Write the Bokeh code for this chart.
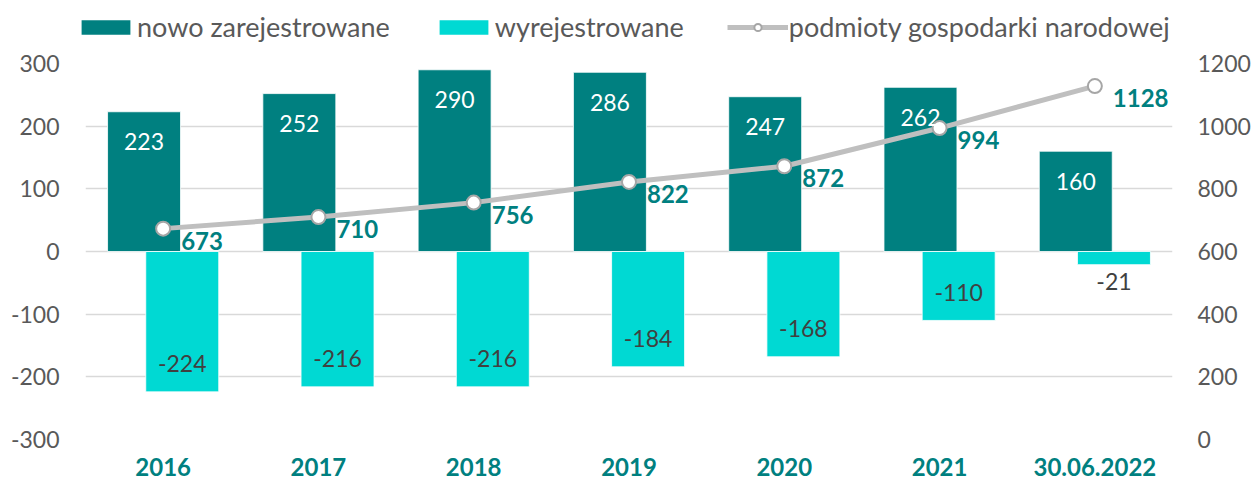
from bokeh.plotting import figure
from bokeh.layouts import column
from bokeh.models import (Range1d, LinearAxis, FactorRange, ColumnDataSource,
                          Legend, LegendItem, FixedTicker)
from bokeh.transform import dodge
from bokeh.core.properties import value
from bokeh.embed import file_html
from bokeh.resources import INLINE

categories = ["2016", "2017", "2018", "2019", "2020", "2021", "30.06.2022"]
registered = [223, 252, 290, 286, 247, 262, 160]
deregistered = [-224, -216, -216, -184, -168, -110, -21]
entities = [673, 710, 756, 822, 872, 994, 1128]
left_ticks = [-300, -200, -100, 0, 100, 200, 300]
right_ticks = [0, 200, 400, 600, 800, 1000, 1200]
series_names = ["nowo zarejestrowane", "wyrejestrowane", "podmioty gospodarki narodowej"]

TEAL = "#008080"
CYAN = "#00D9D3"
GREY_TXT = "#595959"
LINE_C = "#BFBFBF"
MARK_C = "#A6A6A6"
FONT = "Lato"

src = ColumnDataSource(dict(
    cat=categories,
    reg=registered,
    dereg=deregistered,
    ent=entities,
    reg_lbl=[str(v) for v in registered],
    dereg_lbl=[str(v) for v in deregistered],
    ent_lbl=[str(v) for v in entities],
    dereg_off=[(-28 if v < -50 else 17) for v in deregistered],
))

xr = FactorRange(*categories, range_padding=0)

p = figure(x_range=xr, y_range=Range1d(-300, 300),
           width=1253, height=441, output_backend="svg", toolbar_location=None,
           min_border_left=85, min_border_right=81, min_border_top=17,
           min_border_bottom=48, y_axis_location=None)
p.extra_y_ranges = {"right": Range1d(0, 1200)}
p.outline_line_color = None
p.background_fill_color = "white"
p.border_fill_color = "white"

# axes
yl = LinearAxis(ticker=FixedTicker(ticks=left_ticks))
yl.major_label_overrides = {t: str(t) for t in left_ticks}
yr = LinearAxis(y_range_name="right", ticker=FixedTicker(ticks=right_ticks))
for ax, st in ((yl, 26), (yr, 25)):
    ax.axis_line_color = None
    ax.major_tick_line_color = None
    ax.minor_tick_line_color = None
    ax.major_tick_out = 0
    ax.major_tick_in = 0
    ax.minor_tick_out = 0
    ax.major_label_standoff = st
    ax.major_label_text_font = FONT
    ax.major_label_text_font_size = "23px"
    ax.major_label_text_color = GREY_TXT
p.add_layout(yl, "left")
p.add_layout(yr, "right")

xa = p.xaxis[0]
xa.axis_line_color = None
xa.major_tick_line_color = None
xa.minor_tick_line_color = None
xa.major_tick_out = 0
xa.major_tick_in = 0
xa.major_label_standoff = 18
xa.major_label_text_font = FONT
xa.major_label_text_font_style = "bold"
xa.major_label_text_font_size = "24px"
xa.major_label_text_color = TEAL

p.xgrid.grid_line_color = None
p.ygrid.ticker = FixedTicker(ticks=left_ticks)
p.ygrid.grid_line_color = "#D9D9D9"
p.ygrid.grid_line_width = 1.5

# bars
p.vbar(x=dodge("cat", -0.123, range=xr), top="reg", bottom=0,
       width=0.47, source=src, fill_color=TEAL, line_color="white", line_width=0.8)
p.vbar(x=dodge("cat", 0.123, range=xr), top=0, bottom="dereg",
       width=0.47, source=src, fill_color=CYAN, line_color="white", line_width=0.8)

# line
p.line(x="cat", y="ent", y_range_name="right", source=src,
       line_color=LINE_C, line_width=5)
p.scatter(x="cat", y="ent", y_range_name="right", source=src, size=14,
          fill_color="white", line_color=MARK_C, line_width=2)

# labels
p.text(x=dodge("cat", -0.123, range=xr), y="reg", text="reg_lbl", source=src,
       y_offset=30, text_align="center", text_baseline="middle",
       text_color="white", text_font=value(FONT), text_font_size="23px")
p.text(x=dodge("cat", 0.123, range=xr), y="dereg", text="dereg_lbl", source=src,
       y_offset="dereg_off", text_align="center", text_baseline="middle",
       text_color="#404040", text_font=value(FONT), text_font_size="23px")
p.text(x="cat", y="ent", y_range_name="right", text="ent_lbl", source=src,
       x_offset=18, y_offset=12, text_align="left", text_baseline="middle",
       text_color=TEAL, text_font=value(FONT), text_font_style="bold",
       text_font_size="24px")

# legend strip: separate figure so the legend is not clipped by the plot frame.
# Its glyphs use the same data but lie outside its (far away) y range.
lf = figure(width=1253, height=46, output_backend="svg", toolbar_location=None,
            x_range=xr, y_range=Range1d(5000, 5001),
            x_axis_type=None, y_axis_type=None,
            min_border_left=0, min_border_right=0, min_border_top=0,
            min_border_bottom=0)
lf.grid.visible = False
lf.outline_line_color = None
lr1 = lf.vbar(x="cat", top="reg", width=0.47, source=src, fill_color=TEAL, line_color=None)
lr2 = lf.vbar(x="cat", top="dereg", width=0.47, source=src, fill_color=CYAN, line_color=None)
lr3 = lf.line(x="cat", y="ent", source=src, line_color=LINE_C, line_width=5)
lr4 = lf.scatter(x="cat", y="ent", source=src, size=14, fill_color="white",
                 line_color=MARK_C, line_width=2)

aligned_off = "frame_align" in lf.properties()
if aligned_off:
    lf.frame_align = False
    p.frame_align = False
    leg_loc = (75, 3)
    leg_spacing = 43
else:
    leg_loc = (-6, 3)
    leg_spacing = 41

legend = Legend(items=[
    LegendItem(label=series_names[0], renderers=[lr1]),
    LegendItem(label=series_names[1], renderers=[lr2]),
    LegendItem(label=series_names[2], renderers=[lr3, lr4]),
], orientation="horizontal", location=leg_loc, glyph_width=61, glyph_height=18,
   label_standoff=1, spacing=leg_spacing, padding=0, margin=0, border_line_alpha=0,
   background_fill_alpha=0, label_text_font=FONT, label_text_font_size="27px",
   label_text_color=GREY_TXT)
lf.add_layout(legend)

layout = column(lf, p, spacing=0)
open("out.html", "w").write(file_html(layout, INLINE))
